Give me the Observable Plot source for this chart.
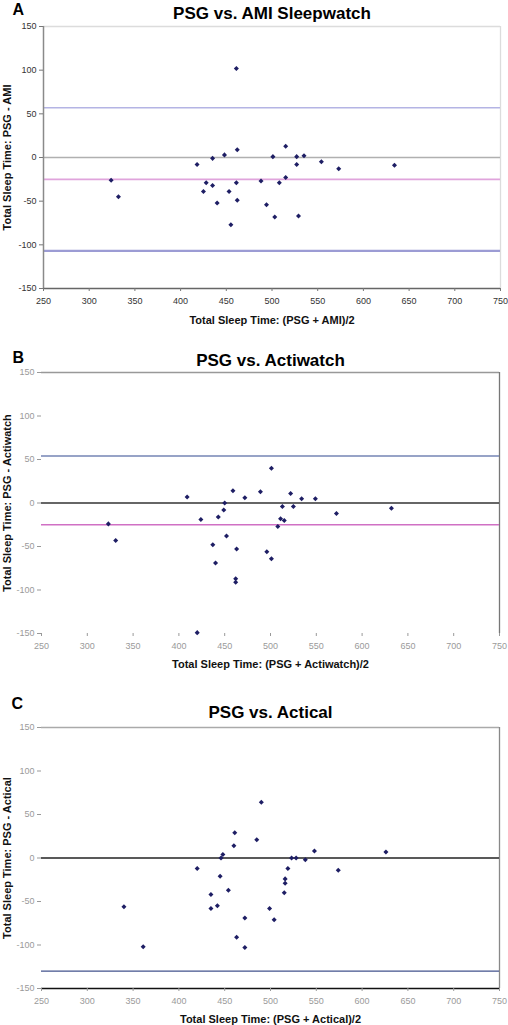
<!DOCTYPE html>
<html>
<head>
<meta charset="utf-8">
<script src="https://cdn.jsdelivr.net/npm/d3@7"></script>
<script src="https://cdn.jsdelivr.net/npm/@observablehq/plot@0.6"></script>
<style>
  html, body { margin: 0; padding: 0; background: #fff; }
  #root { width: 508px; font-family: "Liberation Sans", Arial, sans-serif; }
  #root svg { display: block; background: #fff; font-family: "Liberation Sans", Arial, sans-serif; overflow: visible; }
</style>
</head>
<body>
<div id="root"></div>
<script>
// ---- shared ticks ----
const xTicks = [250, 300, 350, 400, 450, 500, 550, 600, 650, 700, 750];
const yTicks = [-150, -100, -50, 0, 50, 100, 150];

// ---- Panel A: PSG vs. AMI Sleepwatch ----
const aX = [324, 332, 461, 418, 435, 448, 462, 425, 428, 435, 440, 453, 455, 461, 462,
            488, 494, 501, 503, 508, 515, 515, 527, 527, 529, 535, 554, 573, 634];
const aY = [-26, -45, 102, -8, -1, 3, 9, -39, -29, -32, -52, -39, -77, -29, -49,
            -27, -54, 1, -68, -29, 13, -23, 1, -8, -67, 2, -5, -13, -9];
const aRefLines = [57, -25, -107];

// ---- Panel B: PSG vs. Actiwatch ----
const bX = [323, 331, 409, 424, 420, 437, 440, 443, 449, 450, 452, 459, 463, 462, 462,
            472, 489, 496, 501, 501, 508, 511, 513, 515, 522, 525, 534, 549, 572, 632];
const bY = [-24, -43, 7, -19, -149, -48, -69, -16, -8, 0, -38, 14, -53, -87, -91,
            6, 13, -56, -64, 40, -27, -18, -4, -20, 11, -4, 5, 5, -12, -6];
const bRefLines = [54, -25];

// ---- Panel C: PSG vs. Actical ----
const cX = [340, 361, 420, 435, 435, 442, 445, 446, 448, 454, 460, 461, 463, 472, 472,
            485, 490, 499, 504, 515, 516, 516, 519, 523, 528, 538, 548, 574, 626];
const cY = [-56, -102, -12, -42, -58, -55, -21, 0, 4, -37, 14, 29, -91, -69, -103,
            21, 64, -58, -71, -40, -29, -24, -12, 0, 0, -2, 8, -14, 7];
const cRefLines = [-130];

const xDomain = [250, 750];
const yDomain = [-150, 150];
const fmt = d => String(d);

function table(xs, ys) { return xs.map((x, i) => ({x, y: ys[i]})); }

function panel(cfg) {
  const font = "Liberation Sans, Arial, sans-serif";
  const marks = [];
  if (cfg.top) marks.push(Plot.ruleY([yDomain[1]], {stroke: cfg.top, strokeWidth: 1.3}));
  if (cfg.right) marks.push(Plot.ruleX([xDomain[1]], {stroke: cfg.right, strokeWidth: 1.3}));
  marks.push(Plot.ruleY([0], {stroke: cfg.zero, strokeWidth: 1.5}));
  cfg.refLines.forEach((v, i) => {
    marks.push(Plot.ruleY([v], {stroke: cfg.refColors[i], strokeWidth: cfg.refWidths[i]}));
  });
  if (cfg.left) marks.push(Plot.ruleX([xDomain[0]], {stroke: cfg.left, strokeWidth: 1.5}));
  if (cfg.bottom) marks.push(Plot.ruleY([yDomain[0]], {stroke: cfg.bottom, strokeWidth: 1.5}));
  marks.push(Plot.axisY({ticks: yTicks, tickFormat: fmt, tickSize: 4, tickPadding: 3,
    fontSize: 9, stroke: cfg.tickStroke, fill: cfg.tickText, label: null}));
  marks.push(Plot.axisX({ticks: xTicks, tickFormat: fmt, tickSize: 3, tickPadding: 6,
    fontSize: 9, stroke: cfg.tickStroke, fill: cfg.tickText, label: null}));
  marks.push(Plot.dot(table(cfg.xs, cfg.ys), {x: "x", y: "y", symbol: "square", rotate: 45,
    r: 2, fill: "#1e1e64", stroke: "none"}));
  marks.push(Plot.text([cfg.letter], {text: d => d, frameAnchor: "top-left", textAnchor: "start",
    lineAnchor: "bottom", dx: cfg.letterDx, dy: cfg.letterDy, fontSize: 16, fontWeight: "bold", fill: "#000"}));
  marks.push(Plot.text([cfg.title], {text: d => d, frameAnchor: "top", textAnchor: "middle", lineAnchor: "bottom",
    dy: cfg.titleDy, fontSize: 17, fontWeight: "bold", fill: "#000"}));
  marks.push(Plot.text([cfg.xLabel], {text: d => d, frameAnchor: "bottom", textAnchor: "middle", lineAnchor: "bottom",
    dy: cfg.xLabelDy, fontSize: 11, fontWeight: "bold", fill: "#111"}));
  marks.push(Plot.text([cfg.yLabel], {text: d => d, frameAnchor: "left", textAnchor: "middle", lineAnchor: "bottom",
    rotate: -90, dx: cfg.yLabelDx, fontSize: 11, fontWeight: "bold", fill: "#111"}));

  return Plot.plot({
    width: 508,
    height: cfg.height,
    marginLeft: cfg.ml, marginRight: cfg.mr, marginTop: cfg.mt, marginBottom: cfg.mb,
    style: {fontFamily: font, background: "#fff", overflow: "visible"},
    x: {domain: xDomain},
    y: {domain: yDomain},
    marks
  });
}

const root = document.getElementById("root");

root.appendChild(panel({
  letter: "A", title: "PSG vs. AMI Sleepwatch",
  xLabel: "Total Sleep Time: (PSG + AMI)/2", yLabel: "Total Sleep Time: PSG - AMI",
  xs: aX, ys: aY,
  refLines: aRefLines, refColors: ["#b4b4e4", "#e0a4dc", "#9c9cd4"], refWidths: [1.6, 1.6, 2.2],
  zero: "#b0b0b0",
  top: "#dcdcdc", right: "#dcdcdc", left: "#8a8a8a", bottom: "#666",
  tickStroke: "#777", tickText: "#333",
  height: 330, ml: 43, mr: 8, mt: 26, mb: 42,
  letterDx: -31, letterDy: -12, titleDy: -8, xLabelDy: 35, yLabelDx: -33
}));

root.appendChild(panel({
  letter: "B", title: "PSG vs. Actiwatch",
  xLabel: "Total Sleep Time: (PSG + Actiwatch)/2", yLabel: "Total Sleep Time: PSG - Actiwatch",
  xs: bX, ys: bY,
  refLines: bRefLines, refColors: ["#7484b4", "#d070c4"], refWidths: [1.4, 1.4],
  zero: "#333",
  top: "#999", right: "#777", left: null, bottom: null,
  tickStroke: "#999", tickText: "#9a9a9a",
  height: 350, ml: 41, mr: 9, mt: 42, mb: 47,
  letterDx: -29, letterDy: -10, titleDy: -7, xLabelDy: 34, yLabelDx: -31
}));

root.appendChild(panel({
  letter: "C", title: "PSG vs. Actical",
  xLabel: "Total Sleep Time: (PSG + Actical)/2", yLabel: "Total Sleep Time: PSG - Actical",
  xs: cX, ys: cY,
  refLines: cRefLines, refColors: ["#42528c"], refWidths: [1.4],
  zero: "#222",
  top: "#aaa", right: "#888", left: null, bottom: "#111",
  tickStroke: "#999", tickText: "#9a9a9a",
  height: 345, ml: 41, mr: 9, mt: 47, mb: 37,
  letterDx: -30, letterDy: -19, titleDy: -10, xLabelDy: 34, yLabelDx: -31
}));
</script>
</body>
</html>
